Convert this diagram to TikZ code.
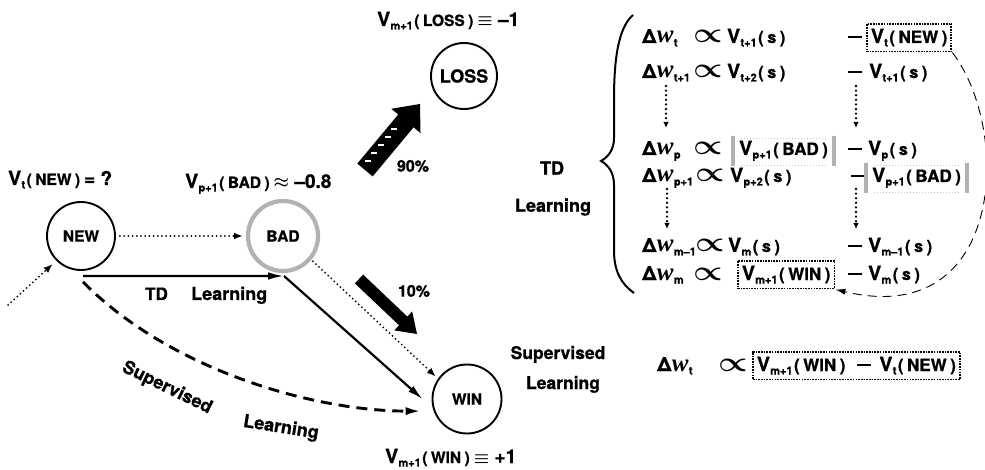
\documentclass[tikz,border=0pt]{standalone}
\usepackage{fontspec}
\setmainfont{TeX Gyre Heros}[BoldFeatures={FakeBold=1.0}]
\newfontfamily\wfont{Liberation Serif}[ItalicFeatures={FakeBold=1.0}]
\usetikzlibrary{arrows.meta,calc}

\newcommand\fs[1]{\fontsize{#1}{#1}\selectfont}
% value symbol  V_{sub}( arg ), optional size of the bracketed part
\newcommand\Vsym[3][15.5]{{\fs{19.5}V}\kern0.3pt\raisebox{-3.5pt}{\fs{11}#2}\kern1.5pt{\fs{#1}(\kern3.5pt#3\kern3.5pt)}}
% weight change  \Delta w_{sub}
\newcommand\Dw[1]{{\fs{19.5}Δ}\kern0.5pt{\fs{25}\wfont\itshape w}\kern0.3pt\raisebox{-3.5pt}{\fs{11}#1}}
\newcommand\Prop{{\fs{19}\boldmath\scalebox{1.9}[1.6]{$\propto$}}}
\newcommand\Dash{\rule[5pt]{14pt}{2.4pt}}

\begin{document}
\begin{tikzpicture}[x=1pt,y=-1pt,
  lbl/.style={inner sep=0pt, anchor=base west, font=\bfseries},
  state/.style={circle, draw, line width=1.9pt, minimum size=68pt, inner sep=0pt,
    font=\bfseries\fs{15.5}},
  dotarrow/.style={line width=2pt, dash pattern=on 0pt off 4.2pt, line cap=round,
    -{Latex[length=9pt,width=7pt]}},
  solidarrow/.style={line width=2.2pt, -{Latex[length=16pt,width=7.5pt]}},
  dashedarrow/.style={line width=2.9pt, dash pattern=on 11pt off 7pt,
    -{Latex[length=16pt,width=8pt]}},
  thindashed/.style={line width=0.9pt, dash pattern=on 9pt off 6pt,
    -{Latex[length=10pt,width=6pt]}},
  dotbox/.style={draw, line width=1.9pt, dash pattern=on 1.6pt off 1.1pt,
    inner xsep=4pt, inner ysep=5pt},
  graybar/.style={draw=gray!60, line width=4.5pt},
  grayedge/.style={draw=gray!45, line width=1pt, dash pattern=on 1pt off 2pt},
  vdots/.style={line width=2.6pt, dash pattern=on 0pt off 4.6pt, line cap=round,
    -{Latex[length=6pt,width=5.5pt]}},
  blockarrow/.style={fill=black},
]
\useasboundingbox (0,0) rectangle (985,470);

% ---------- states ----------
\node[state] (NEW) at (81,236) {NEW};
\node[state, draw=gray!60, line width=4.2pt, minimum size=70pt] (BAD) at (283,236) {BAD};
\node[state, font=\bfseries\fs{18}, minimum size=66pt] (LOSS) at (464,76) {LOSS};
\node[state, minimum size=69pt] (WIN) at (467,399) {WIN};

% ---------- state values ----------
\node[lbl] (vNEW) at (8,185) {\Vsym{t}{NEW}\kern4pt{\fs{19}= ?}};
\node[lbl] (vBAD) at (185,188) {\Vsym{p+1}{BAD}\kern4pt{\fs{19}\boldmath$\approx$ –0.8}};
\node[lbl] (vLOSS) at (377,26) {\Vsym{m+1}{LOSS}\kern4pt{\fs{19}\boldmath$\equiv$ –1}};
\node[lbl] (vWIN) at (385,463) {\Vsym{m+1}{WIN}\kern4pt{\fs{19}\boldmath$\equiv$ +1}};

% ---------- transitions ----------
\coordinate (src) at (8,305);
\draw[dotarrow, shorten >=5pt] (src) -- (NEW.225);
\draw[dotarrow, shorten <=4pt, shorten >=3pt] (NEW) -- (BAD);
\draw[dotarrow, shorten <=2pt, shorten >=3pt] (BAD.-40) -- (WIN.145);

% TD learning path
\coordinate (tdA) at ($(NEW.south)+(2,5)$);
\coordinate (tdB) at (284,276);
\draw[solidarrow] (tdA) -- (tdB);
\draw[solidarrow, shorten >=13pt] (tdB) -- (WIN.195);
\node[lbl] (tdL1) at (145,300) {\fs{17}TD};
\node[lbl] (tdL2) at (191,300) {\fs{18}Learning};

% supervised learning path
\coordinate (svA) at ($(NEW.south)+(2,11)$);
\draw[dashedarrow, shorten >=12pt] (svA) .. controls +(87,88) and +(-120,0) .. (WIN.200);
\node[rotate=-26, font=\bfseries\fs{18}, inner sep=0pt] (svL1) at (167,388) {Supervised};
\node[rotate=-9, font=\bfseries\fs{18}, inner sep=0pt] (svL2) at (281,428) {Learning};

% outcome probabilities (block arrows)
\coordinate (b10s) at (359,279);
\coordinate (b10e) at (417,334);
\coordinate (h10) at ($(b10e)!19pt!(b10s)$);
\fill[blockarrow] ($(b10s)!6pt!90:(b10e)$) -- ($(h10)!6pt!-90:(b10s)$)
  -- ($(h10)!13pt!-90:(b10s)$) -- (b10e) -- ($(h10)!13pt!90:(b10s)$)
  -- ($(h10)!6pt!90:(b10s)$) -- ($(b10s)!6pt!-90:(b10e)$) -- cycle;
\node[font=\bfseries\fs{16}] (p10) at (414,291) {10\%};

\coordinate (b90s) at (365,170);
\coordinate (b90e) at (420,104);
\coordinate (h90) at ($(b90e)!22pt!(b90s)$);
\fill[blockarrow] ($(b90s)!10pt!90:(b90e)$) -- ($(h90)!10pt!-90:(b90s)$)
  -- ($(h90)!19pt!-90:(b90s)$) -- (b90e) -- ($(h90)!19pt!90:(b90s)$)
  -- ($(h90)!10pt!90:(b90s)$) -- ($(b90s)!10pt!-90:(b90e)$) -- cycle;
% white hatching on the shaft
\foreach \t in {0.08,0.2,0.32,0.44,0.56}{
  \coordinate (tk) at ($(b90s)!\t!(b90e)$);
  \draw[white, line width=1.6pt] ($(tk)!6pt!90:(b90e)$) -- ++(6,0);
}
\node[font=\bfseries\fs{16}] (p90) at (413,166) {90\%};

% ---------- TD learning equations ----------
\node[font=\bfseries\fs{18}] (tdR1) at (552,168) {TD};
\node[font=\bfseries\fs{18}] (tdR2) at (553,207) {Learning};
\draw[line width=2pt] (633,15) .. controls (618,28) and (614,60) .. (614,100)
  -- (614,138) .. controls (614,150) and (608,157) .. (601,161)
  .. controls (608,165) and (614,172) .. (614,185)
  -- (614,250) .. controls (614,270) and (620,283) .. (634,293);

% row t
\node[lbl] (r1a) at (642,43) {\Dw{t}};
\node[lbl] (r1b) at (693,43) {\Prop};
\node[lbl] (r1c) at (727,43) {\Vsym[16.5]{t+1}{s}};
\node[lbl] (r1d) at (848,43) {\Dash};
\node[lbl, dotbox] (bNEW) at (866,43) {\Vsym[17]{t}{NEW}};
% row t+1
\node[lbl] (r2a) at (642,78) {\Dw{t+1}};
\node[lbl] (r2b) at (693,78) {\Prop};
\node[lbl] (r2c) at (727,78) {\Vsym[16.5]{t+2}{s}};
\node[lbl] (r2d) at (848,78) {\Dash};
\node[lbl] (r2e) at (869,78) {\Vsym[16.5]{t+1}{s}};
% row p
\node[lbl] (r3a) at (642,155) {\Dw{p}};
\node[lbl] (r3b) at (693,155) {\Prop};
\node[lbl, inner xsep=6pt, inner ysep=5pt] (bBAD1) at (733,155) {\Vsym[17]{p+1}{BAD}};
\node[lbl] (r3d) at (848,155) {\Dash};
\node[lbl] (r3e) at (868,155) {\Vsym[16.5]{p}{s}};
% row p+1
\node[lbl] (r4a) at (642,182) {\Dw{p+1}};
\node[lbl] (r4b) at (695,182) {\Prop};
\node[lbl] (r4c) at (730,182) {\Vsym[16.5]{p+2}{s}};
\node[lbl] (r4d) at (851,182) {\Dash};
\node[lbl, inner xsep=6pt, inner ysep=5pt] (bBAD2) at (866,182) {\Vsym[17]{p+1}{BAD}};
% row m-1
\node[lbl] (r5a) at (642,252) {\Dw{m–1}};
\node[lbl] (r5b) at (695,252) {\Prop};
\node[lbl] (r5c) at (728,252) {\Vsym[16.5]{m}{s}};
\node[lbl] (r5d) at (848,252) {\Dash};
\node[lbl] (r5e) at (868,252) {\Vsym[16.5]{m–1}{s}};
% row m
\node[lbl] (r6a) at (642,280) {\Dw{m}};
\node[lbl] (r6b) at (693,280) {\Prop};
\node[lbl, dotbox] (bWIN) at (737,280) {\Vsym[17]{m+1}{WIN}};
\node[lbl] (r6d) at (848,280) {\Dash};
\node[lbl] (r6e) at (868,280) {\Vsym[16.5]{m}{s}};

% gray brackets around the intermediate value
\foreach \b in {bBAD1,bBAD2}{
  \draw[graybar] (\b.north west) -- (\b.south west);
  \draw[graybar] (\b.north east) -- (\b.south east);
  \draw[grayedge] ($(\b.north west)+(8,3)$) -- ($(\b.north east)+(-8,3)$);
  \draw[grayedge] ($(\b.south west)+(8,-1)$) -- ($(\b.south east)+(-8,-1)$);
}

% vertical ellipses between rows
\draw[vdots] (666,86) -- (666,128);
\draw[vdots] (856,86) -- (856,128);
\draw[vdots] (667,189) -- (667,229);
\draw[vdots] (856,189) -- (856,229);

% propagation of the target value
\draw[thindashed] (bNEW.south east) .. controls (1012,130) and (1005,330) .. (bWIN.south east);

% ---------- supervised learning equation ----------
\node[font=\bfseries\fs{17.5}, anchor=base] (svR1) at (558,359) {Supervised};
\node[font=\bfseries\fs{17.5}, anchor=base] (svR2) at (563,389) {Learning};
\node[lbl] (r7a) at (657,371) {\Dw{t}};
\node[lbl] (r7b) at (718,371) {\Prop};
\node[lbl, dotbox] (bSV) at (752,371) {\Vsym[17]{m+1}{WIN}\kern12pt\Dash\kern8pt\Vsym[17]{t}{NEW}};
\end{tikzpicture}
\end{document}
